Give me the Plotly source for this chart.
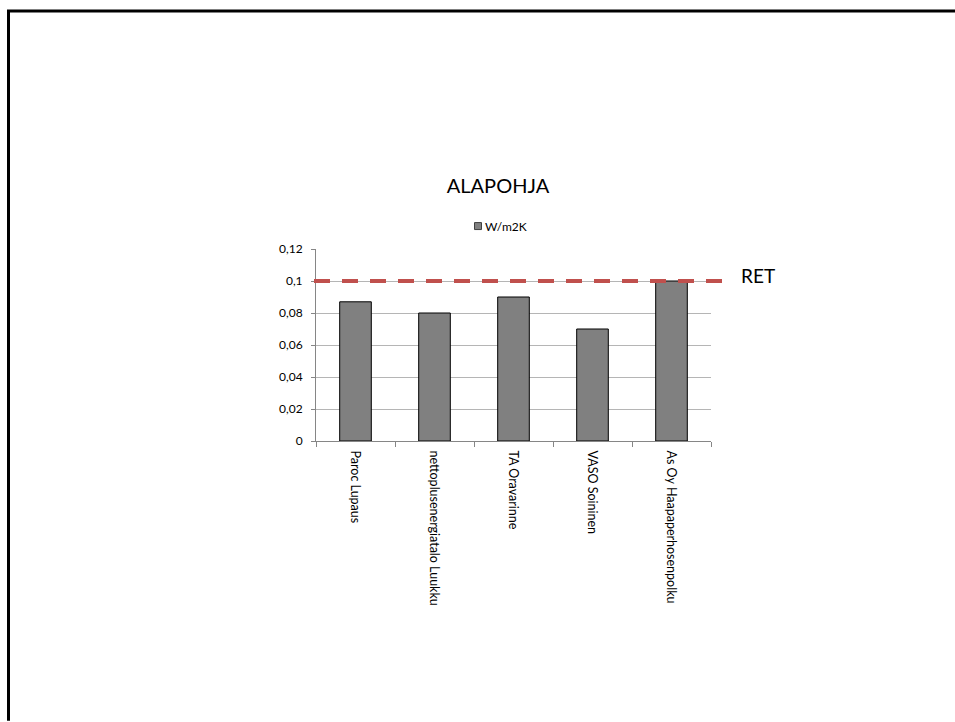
import plotly.graph_objects as go

# U-values of the base floor (alapohja) per project
categories = [
    "Paroc Lupaus",
    "nettoplusenergiatalo Luukku",
    "TA Oravarinne",
    "VASO Soininen",
    "As Oy Haapaperhosenpolku",
]
u_values = [0.087, 0.08, 0.09, 0.07, 0.1]
series_name = "W/m2K"
ret_level = 0.1
y_ticks = [0, 0.02, 0.04, 0.06, 0.08, 0.1, 0.12]
y_tick_text = ["0", "0,02", "0,04", "0,06", "0,08", "0,1", "0,12"]

W, H = 955, 722
L, R, T, B = 316, 711, 249, 441.5
FONT = "Lato, 'Open Sans', sans-serif"
BAR_COLOR = "#808080"


def px_x(p):
    return (p - L) / (R - L)


def px_y(p):
    return (B - p) / (B - T)


fig = go.Figure()

fig.add_trace(go.Bar(
    x=categories,
    y=u_values,
    name=series_name,
    marker=dict(color=BAR_COLOR, line=dict(color="#000000", width=1)),
    showlegend=False,
))

# compact legend: swatch followed directly by the series name
fig.add_shape(
    type="rect", xref="paper", yref="paper",
    x0=px_x(474.5), x1=px_x(481.5), y0=px_y(229.5), y1=px_y(222.5),
    fillcolor=BAR_COLOR, line=dict(color="#404040", width=1),
)
fig.add_annotation(
    text=series_name, xref="paper", yref="paper",
    x=px_x(482.5), y=px_y(226), xanchor="left", yanchor="middle",
    showarrow=False,
    font=dict(family=FONT, size=12, color="#000000"),
)

# RET reference level
fig.add_shape(
    type="line", xref="x domain", yref="y",
    x0=px_x(314), x1=px_x(722), y0=ret_level, y1=ret_level,
    line=dict(color="#c0504d", width=4, dash="16px,12px"),
    layer="above",
)
fig.add_annotation(
    text="RET", xref="paper", yref="y",
    x=px_x(739), y=ret_level, xanchor="left", yanchor="middle",
    yshift=6, showarrow=False,
    font=dict(family=FONT, size=19, color="#000000"),
)

# page frame (top and left edges)
fig.add_shape(
    type="path", xref="paper", yref="paper",
    path=f"M {px_x(8.5)},{px_y(722)} L {px_x(8.5)},{px_y(10.5)} L {px_x(955)},{px_y(10.5)}",
    line=dict(color="#000000", width=3),
    layer="above",
)

fig.update_layout(
    width=W, height=H,
    margin=dict(l=L, r=W - R, t=T, b=H - B),
    paper_bgcolor="#ffffff",
    plot_bgcolor="#ffffff",
    separators=", ",
    bargap=0.6,
    showlegend=False,
    title=dict(
        text="ALAPOHJA",
        x=498 / W, xanchor="center", xref="container",
        y=1 - 186 / H, yanchor="middle", yref="container",
        font=dict(family=FONT, size=20, color="#000000"),
    ),
    font=dict(family=FONT, size=12, color="#000000"),
)

fig.update_xaxes(
    type="category",
    tickangle=90,
    tickson="boundaries",
    ticks="outside", ticklen=5, tickcolor="#868686",
    ticklabelstandoff=6,
    showline=True, linecolor="#868686", linewidth=1,
    showgrid=False,
    tickfont=dict(family=FONT, size=12.5, color="#000000"),
)
fig.update_yaxes(
    range=[0, 0.12],
    tickvals=y_ticks, ticktext=y_tick_text,
    ticks="outside", ticklen=4, tickcolor="#868686",
    ticklabelstandoff=6,
    showline=True, linecolor="#868686", linewidth=1,
    showgrid=True, gridcolor="#b5b5b5", gridwidth=1,
    zeroline=False,
    tickfont=dict(family=FONT, size=12, color="#000000"),
)

fig.write_html("out.html")
